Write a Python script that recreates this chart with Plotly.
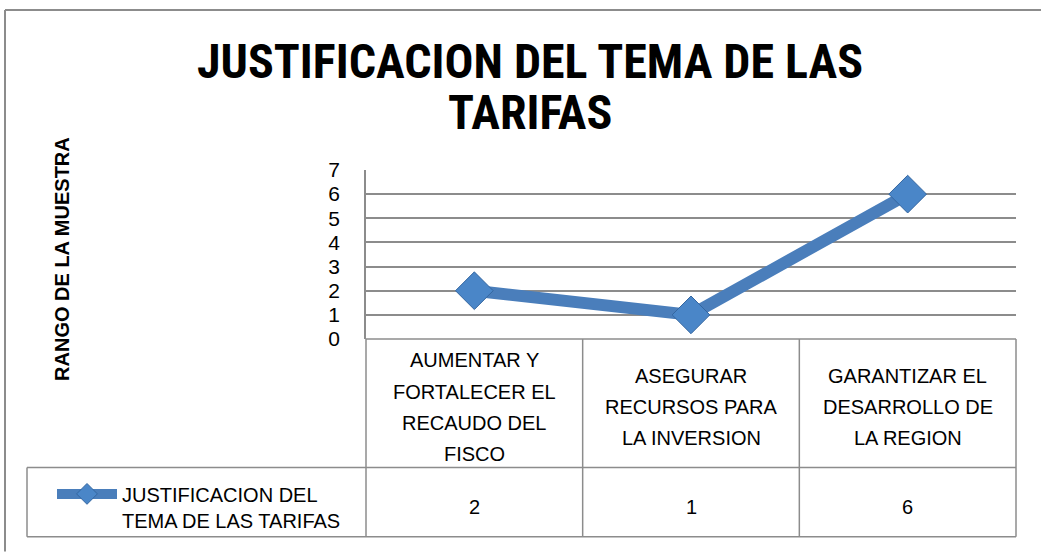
import plotly.graph_objects as go

# data
categories = [
    "AUMENTAR Y<br>FORTALECER EL<br>RECAUDO DEL<br>FISCO",
    "ASEGURAR<br>RECURSOS PARA<br>LA INVERSION",
    "GARANTIZAR EL<br>DESARROLLO DE<br>LA REGION",
]
values = [2, 1, 6]
series_name = "JUSTIFICACION DEL<br>TEMA DE LAS TARIFAS"
title_text = "JUSTIFICACION DEL TEMA DE LAS<br>TARIFAS"
y_title = "RANGO DE LA MUESTRA"
y_ticks = [0, 1, 2, 3, 4, 5, 6, 7]

W, H = 1041, 552
L, R, T, B = 366, 25, 170, 211
NARROW = "Roboto Condensed, Liberation Sans Narrow, Arial Narrow, sans-serif"
SANS = "Liberation Sans, Arial, sans-serif"
GRID = "#8c8c8c"


def px(x):
    return (x - L) / (W - L - R)


def py(y):
    return (H - B - y) / (H - T - B)


xs = list(range(len(categories)))

fig = go.Figure()
fig.add_trace(go.Scatter(
    x=xs, y=values,
    name=series_name,
    mode="lines+markers",
    line=dict(color="#4a7ebb", width=12),
    marker=dict(symbol="diamond", size=29, color="#4a86c8",
                line=dict(color="#3466a0", width=1)),
))

annotations = []

# title, one line per annotation
for k, part in enumerate(title_text.split("<br>")):
    annotations.append(dict(
        x=px(530), xref="paper", y=py(60 + 52 * k), yref="paper",
        text="<b>%s</b>" % part, showarrow=False,
        font=dict(family=NARROW, size=48, color="#000000"),
        xanchor="center", yanchor="middle",
    ))

# data table: header cells (category names), one annotation per text line
head_mid, line_gap = 410, 31.5
for i, cat in enumerate(categories):
    parts = cat.split("<br>")
    for k, part in enumerate(parts):
        yy = head_mid + (k - (len(parts) - 1) / 2) * line_gap
        annotations.append(dict(
            x=xs[i], xref="x", y=py(yy), yref="paper", text=part,
            showarrow=False, font=dict(family=SANS, size=20, color="#000000"),
            xanchor="center", yanchor="middle",
        ))
    # value row
    annotations.append(dict(
        x=xs[i], xref="x", y=py(511), yref="paper", text=str(values[i]),
        showarrow=False, font=dict(family=SANS, size=20, color="#000000"),
        xanchor="center", yanchor="middle",
    ))

# y axis title
annotations.append(dict(
    x=px(62), xref="paper", y=py(260), yref="paper", text="<b>%s</b>" % y_title,
    textangle=-90, showarrow=False,
    font=dict(family=SANS, size=20, color="#000000"),
    xanchor="center", yanchor="middle",
))

# table and frame lines
line_style = dict(color=GRID, width=1.5)
shapes = []


def hline(x0, x1, y):
    shapes.append(dict(type="line", xref="paper", yref="paper",
                       x0=px(x0), x1=px(x1), y0=py(y), y1=py(y), line=line_style))


def vline(x, y0, y1):
    shapes.append(dict(type="line", xref="paper", yref="paper",
                       x0=px(x), x1=px(x), y0=py(y0), y1=py(y1), line=line_style))


hline(366, 1016, 341)
hline(27, 1016, 471)
hline(27, 1016, 541)
vline(27, 471, 541)
vline(366, 341, 541)
vline(1016, 341, 541)
for b in [0.5, 1.5]:
    shapes.append(dict(type="line", xref="x", yref="paper", x0=b, x1=b,
                       y0=py(341), y1=py(541), line=line_style))
# outer chart border
shapes.append(dict(type="line", xref="paper", yref="paper", x0=px(5), x1=px(1045),
                   y0=py(8), y1=py(8), line=dict(color="#8c8c8c", width=2)))
shapes.append(dict(type="line", xref="paper", yref="paper", x0=px(5), x1=px(5),
                   y0=py(8), y1=py(556), line=dict(color="#8c8c8c", width=2)))

fig.update_layout(
    width=W, height=H,
    margin=dict(l=L, r=R, t=T, b=B),
    paper_bgcolor="white", plot_bgcolor="white",
    xaxis=dict(range=[-0.5, 2.5], tickvals=xs, showticklabels=False,
               showgrid=False, zeroline=False, showline=False, ticks=""),
    yaxis=dict(range=[0, 7], tickvals=y_ticks, showgrid=True, gridcolor=GRID,
               gridwidth=1.5, zeroline=False, showline=True, linecolor=GRID,
               linewidth=1.5, ticks="", ticklabelstandoff=20,
               tickfont=dict(family=SANS, size=21, color="#000000")),
    showlegend=True,
    legend=dict(x=px(52), y=py(478), xanchor="left", yanchor="top",
                valign="top", itemwidth=60, bgcolor="rgba(0,0,0,0)",
                font=dict(family=SANS, size=20, color="#000000")),
    annotations=annotations,
    shapes=shapes,
)

fig.write_html("out.html", config={"displayModeBar": False},
               post_script="document.body.style.margin='0';")
